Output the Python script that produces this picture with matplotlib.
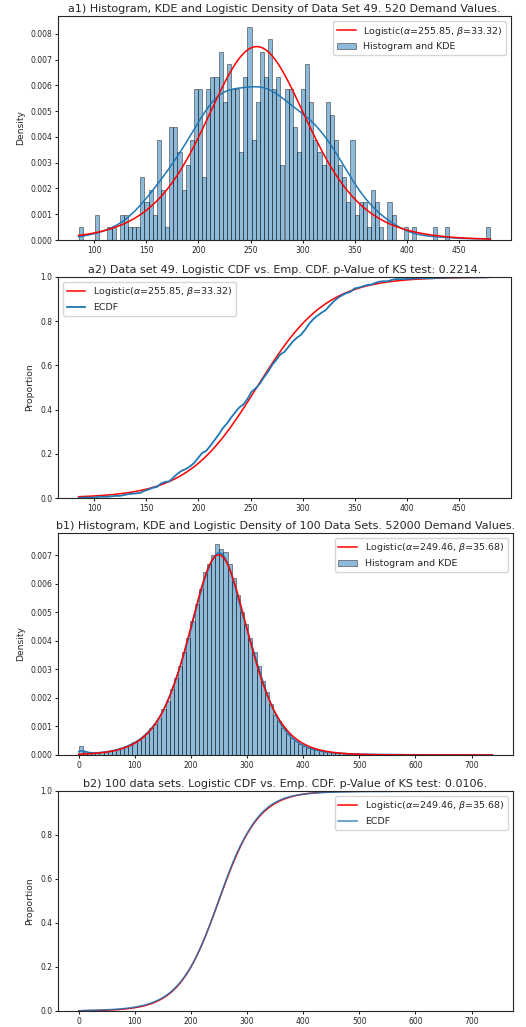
import numpy as np
import matplotlib
matplotlib.use("Agg")
import matplotlib.pyplot as plt

# data set 49: 520 demand values, 100 bins between min and max
a_min, a_max = 85, 480
a_counts = [1, 0, 0, 0, 2, 0, 0, 1, 1, 0, 2, 2, 1, 1, 1, 5, 3, 4, 2, 8, 4, 1,
            9, 9, 7, 4, 6, 8, 12, 12, 5, 12, 13, 13,
            15, 11, 14, 12, 12, 7, 13, 17, 8, 11, 15, 13, 16,
            12, 13, 6, 12, 12, 9, 7, 12, 14, 11, 8, 7, 6, 11,
            10, 8, 6, 5, 3, 8, 2, 3, 3, 1, 4,
            3, 1, 0, 3, 2, 0, 0, 1, 0, 1, 0, 0, 0, 0, 1, 0, 0, 1,
            0, 0, 0, 0, 0, 0, 0, 0, 0, 1]
a_alpha, a_beta = 255.85, 33.32
a_pvalue = 0.2214

# 100 data sets: 52000 demand values, density of 100 bins
b_min, b_max = 0, 737
b_n = 52000
b_density = [0.0003, 0.0001, 0.00007, 0.00007, 0.00008, 0.00009, 0.00011, 0.00013, 0.00016,
             0.0002, 0.00024, 0.0003, 0.00036, 0.00044, 0.00052, 0.00063, 0.00077,
             0.00093, 0.0011, 0.0013, 0.0016, 0.0019, 0.0023, 0.0027, 0.0031, 0.0036,
             0.0041, 0.0047, 0.0053, 0.0058, 0.0064, 0.0067, 0.007, 0.0074, 0.0072,
             0.0071, 0.0067, 0.0062, 0.0056, 0.005, 0.0046, 0.0041, 0.0036, 0.0031,
             0.0026, 0.0022, 0.0018, 0.0014, 0.0012, 0.00095, 0.00075, 0.0006, 0.0005,
             0.0004, 0.00032, 0.00026, 0.0002, 0.00017, 0.00014, 0.00011, 0.00009,
             0.00008, 0.00007, 0.00006, 0.00005, 0.00004, 0.00004, 0.00003, 0.00003,
             0.00003, 0.00002, 0.00002, 0.00002, 0.00002, 0.00002, 0.00002, 0.00002,
             0.00002, 0.00001, 0.00001, 0.00001, 0.00001, 0.00001, 0.00001, 0.00001,
             0.00001, 0.00001, 0.00001, 0.00001, 0.00001, 0.00001, 0.00001, 0.00001,
             0.00001, 0.00001, 0.00001, 0.00001, 0.00001, 0.00001, 0.00001]
b_alpha, b_beta = 249.46, 35.68
b_pvalue = 0.0106

BLUE = "#1f77b4"
plt.rcParams.update({
    "font.family": "DejaVu Sans",
    "axes.edgecolor": "#262626",
    "axes.linewidth": 0.8,
    "xtick.color": "#262626",
    "ytick.color": "#262626",
    "xtick.labelsize": 5.5,
    "ytick.labelsize": 5.5,
    "xtick.major.size": 2.2,
    "ytick.major.size": 2.2,
    "xtick.major.pad": 2.0,
    "ytick.major.pad": 2.0,
    "text.color": "#262626",
    "axes.labelcolor": "#262626",
})
TITLE_FS = 8.0
LEG_FS = 6.8
LAB_FS = 6.6


def logistic_pdf(x, a, b):
    z = np.exp(-(x - a) / b)
    return z / (b * (1 + z) ** 2)


def logistic_cdf(x, a, b):
    return 1 / (1 + np.exp(-(x - a) / b))


def kde(x, centers, weights, n):
    w = np.asarray(weights, float)
    w = w / w.sum()
    mean = np.sum(w * centers)
    std = np.sqrt(np.sum(w * (centers - mean) ** 2))
    bw = std * n ** (-1 / 5)
    g = np.exp(-0.5 * ((x[:, None] - centers[None, :]) / bw) ** 2) / (bw * np.sqrt(2 * np.pi))
    return g @ w


W, H = 526, 1027
fig = plt.figure(figsize=(W / 100, H / 100), dpi=100)


def box(l, t, r, b):
    return [l / W, (H - b) / H, (r - l) / W, (b - t) / H]


ax1 = fig.add_axes(box(58, 16, 511, 240))
ax2 = fig.add_axes(box(58, 277, 511, 498))
ax3 = fig.add_axes(box(58, 533, 513, 755))
ax4 = fig.add_axes(box(58, 791, 513, 1011))

# a1
a_edges = np.linspace(a_min, a_max, len(a_counts) + 1)
a_centers = (a_edges[:-1] + a_edges[1:]) / 2
a_total = sum(a_counts)
ax1.hist(a_centers, bins=a_edges, weights=a_counts, density=True, color=BLUE,
         alpha=0.5, edgecolor="black", linewidth=0.6, label="Histogram and KDE")
xa = np.linspace(a_min, a_max, 300)
ax1.plot(xa, kde(xa, a_centers, a_counts, a_total), color=BLUE, lw=1.1)
ax1.plot(xa, logistic_pdf(xa, a_alpha, a_beta), color="red", lw=1.1,
         label=rf"Logistic($\alpha$={a_alpha:.2f}, $\beta$={a_beta:.2f})")
ax1.set_xlim(a_min - 0.05 * (a_max - a_min), a_max + 0.05 * (a_max - a_min))
ax1.set_ylabel("Density", fontsize=LAB_FS)
ax1.set_title(f"a1) Histogram, KDE and Logistic Density of Data Set 49. {a_total} Demand Values.",
              fontsize=TITLE_FS, pad=3)
h, l = ax1.get_legend_handles_labels()
ax1.legend(h[::-1], l[::-1], loc="upper right", fontsize=LEG_FS)

# a2
ax2.plot(xa, logistic_cdf(xa, a_alpha, a_beta), color="red", lw=1.1,
         label=rf"Logistic($\alpha$={a_alpha:.2f}, $\beta$={a_beta:.2f})")
a_cum = np.cumsum(a_counts) / a_total
ax2.plot(a_edges, np.r_[0, a_cum], color=BLUE, lw=1.3, label="ECDF")
ax2.set_xlim(ax1.get_xlim())
ax2.set_ylim(0, 1)
ax2.set_ylabel("Proportion", fontsize=LAB_FS)
ax2.set_title(f"a2) Data set 49. Logistic CDF vs. Emp. CDF. p-Value of KS test: {a_pvalue:.4f}.",
              fontsize=TITLE_FS, pad=3)
ax2.legend(loc="upper left", fontsize=LEG_FS)

# b1
b_edges = np.linspace(b_min, b_max, len(b_density) + 1)
b_centers = (b_edges[:-1] + b_edges[1:]) / 2
ax3.hist(b_centers, bins=b_edges, weights=b_density, color=BLUE, alpha=0.5,
         edgecolor="black", linewidth=0.6, label="Histogram and KDE")
xb = np.linspace(b_min, b_max, 500)
ax3.plot(xb, kde(xb, b_centers, b_density, b_n), color=BLUE, lw=1.1)
ax3.plot(xb, logistic_pdf(xb, b_alpha, b_beta), color="red", lw=1.1,
         label=rf"Logistic($\alpha$={b_alpha:.2f}, $\beta$={b_beta:.2f})")
ax3.set_xlim(b_min - 0.05 * (b_max - b_min), b_max + 0.05 * (b_max - b_min))
ax3.set_ylabel("Density", fontsize=LAB_FS)
ax3.set_title(f"b1) Histogram, KDE and Logistic Density of 100 Data Sets. {b_n} Demand Values.",
              fontsize=TITLE_FS, pad=3)
h, l = ax3.get_legend_handles_labels()
ax3.legend(h[::-1], l[::-1], loc="upper right", fontsize=LEG_FS)

# b2
b_width = b_edges[1] - b_edges[0]
b_cum = np.cumsum(b_density) * b_width
b_cum = b_cum / b_cum[-1]
ax4.plot(xb, logistic_cdf(xb, b_alpha, b_beta), color="red", lw=1.1,
         label=rf"Logistic($\alpha$={b_alpha:.2f}, $\beta$={b_beta:.2f})")
ax4.plot(b_edges, np.r_[0, b_cum], color=BLUE, lw=1.1, alpha=0.85, label="ECDF")
ax4.set_xlim(ax3.get_xlim())
ax4.set_ylim(0, 1)
ax4.set_ylabel("Proportion", fontsize=LAB_FS)
ax4.set_title(f"b2) 100 data sets. Logistic CDF vs. Emp. CDF. p-Value of KS test: {b_pvalue:.4f}.",
              fontsize=TITLE_FS, pad=3)
ax4.legend(loc="upper right", fontsize=LEG_FS)

fig.savefig("out.png", dpi=100)
